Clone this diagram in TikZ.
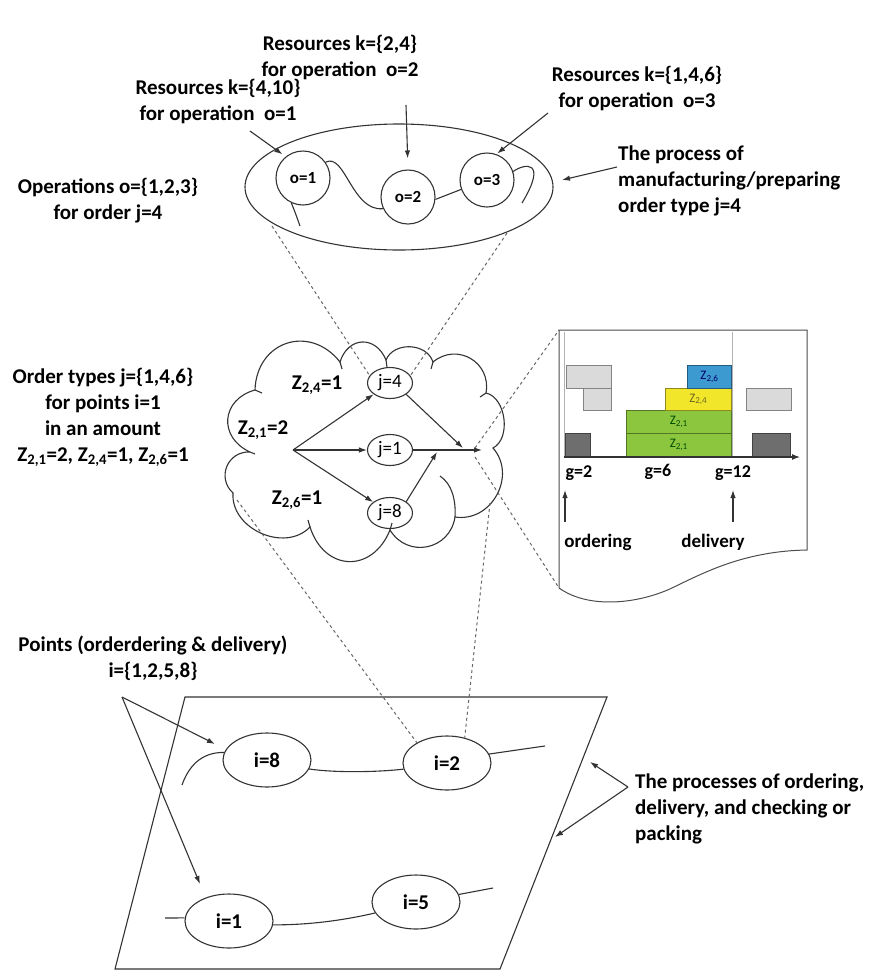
\documentclass[tikz,border=0pt]{standalone}
\usepackage{fontspec}
\setmainfont{Carlito}
\usetikzlibrary{arrows.meta,shapes.geometric}
\newcommand\Zs[1]{Z\textsubscript{#1}}
\definecolor{cgreen}{HTML}{8CC63E}
\definecolor{cyellow}{HTML}{F2E62B}
\definecolor{cblue}{HTML}{3D9AD1}
\definecolor{clight}{HTML}{DADADA}
\definecolor{cdark}{HTML}{6E6E6E}
\begin{document}
\begin{tikzpicture}[x=1pt,y=-1pt,
  ln/.style={line width=1.1pt,draw=black!80},
  arr/.style={ln,-{Latex[length=8pt,width=5.5pt]}},
  dsh/.style={line width=1pt,draw=black!60,dash pattern=on 3pt off 3pt},
  lbl/.style={font=\fontsize{21}{26}\selectfont\bfseries,align=center,inner sep=0pt},
  circ/.style={circle,ln,minimum size=54pt,inner sep=0pt,font=\fontsize{17}{17}\selectfont\bfseries},
  jell/.style={ellipse,ln,minimum width=45pt,minimum height=31pt,inner sep=0pt,font=\fontsize{19}{19}\selectfont},
  iell/.style={ellipse,ln,minimum width=88pt,minimum height=54pt,inner sep=0pt,font=\fontsize{21}{21}\selectfont\bfseries},
  bx/.style={draw=#1!60!black,line width=0.8pt,minimum height=0pt,inner sep=0pt,font=\fontsize{13}{13}\selectfont},
  glbl/.style={font=\fontsize{18}{18}\selectfont\bfseries,inner sep=0pt},
  clbl/.style={font=\fontsize{19}{19}\selectfont\bfseries,inner sep=0pt}
]
\useasboundingbox (0,0) rectangle (884,978);

% ---------- top part ----------
\node[lbl] (t2) at (340,57) {Resources k=\{2,4\}\\for operation~~o=2};
\node[lbl] (t1) at (218,101) {Resources k=\{4,10\}\\for operation~~o=1};
\node[lbl] (t3) at (637,88) {Resources k=\{1,4,6\}\\for operation~~o=3};
\node[lbl] (tops) at (108,201) {Operations o=\{1,2,3\}\\for order j=4};
\node[lbl,align=left,anchor=west] (tproc) at (618,181) {The process of\\manufacturing/preparing\\order type j=4};

\node[ellipse,ln,minimum width=308pt,minimum height=126pt] (ell) at (399,187) {};
\node[circ] (o1) at (303,178) {o=1};
\node[circ] (o2) at (408,197) {o=2};
\node[circ] (o3) at (487,180) {o=3};

\draw[ln] (o1.245) .. controls (295,212) .. (300,226);
\draw[ln] (o1.35) .. controls (345,152) and (352,212) .. (o2.205);
\draw[ln] (o2.-5) -- (o3.200);
\draw[ln] (o3.18) .. controls (525,163) and (548,160) .. (522,203);

\coordinate (a1) at (250,131);
\coordinate (a2) at (406,105);
\coordinate (a3) at (548,113);
\coordinate (a4) at (617,167);
\coordinate (a4t) at (562,180);
\draw[arr,shorten >=4pt] (a1) -- (o1.129);
\draw[arr,shorten >=11pt] (a2) -- (o2.north);
\draw[arr,shorten >=1pt] (a3) -- (o3.70);
\draw[arr] (a4) -- (a4t);

\coordinate (e1) at (272,226);
\coordinate (e2) at (507,233);

% ---------- cloud ----------
\draw[ln] (250,452) to[bend left=70,looseness=1.45] (255,390)
  to[bend left=70,looseness=1.4] (340,362)
  to[bend left=70,looseness=1.5] (386,360)
  to[bend left=70,looseness=1.1] (433,362)
  to[bend left=70,looseness=1.3] (486,393)
  to[bend left=70,looseness=0.95] (493,448)
  to[bend left=70,looseness=1.2] (455,517)
  to[bend left=70,looseness=1.3] (390,530)
  to[bend left=70,looseness=1.5] (310,527)
  to[bend left=70,looseness=1.1] (233,493)
  to[bend left=70,looseness=1.3] (250,452);
\draw[ln] (440,476) .. controls (452,484) and (456,500) .. (455,517);
% small inner hooks at the cusps
\draw[ln] (250,452) -- (255,454);
\draw[ln] (255,390) -- (262,393);
\draw[ln] (340,362) -- (342,369);
\draw[ln] (386,360) -- (387,367);
\draw[ln] (433,362) -- (431,369);
\draw[ln] (486,393) -- (480,397);
\draw[ln] (390,530) -- (392,523);
\draw[ln] (310,527) -- (308,520);

\node[jell] (j4) at (390,383) {j=4};
\node[jell] (j1) at (390,450) {j=1};
\node[jell] (j8) at (390,513) {j=8};
\coordinate (O) at (293,450);
\coordinate (m1) at (463,448);
\coordinate (m2) at (482,450);
\coordinate (m3) at (437,452);
\draw[arr] (O) -- (j4);
\draw[arr] (O) -- (j1);
\draw[arr] (O) -- (j8);
\draw[arr] (j4.-35) -- (m1);
\draw[arr] (j1.east) -- (m2);
\draw[arr] (j8.35) -- (m3);

\node[lbl] (z24) at (317,385) {\Zs{2,4}=1};
\node[lbl] (z21) at (263,430) {\Zs{2,1}=2};
\node[lbl] (z26) at (297,500) {\Zs{2,6}=1};

\node[lbl] (tord) at (103,417) {Order types j=\{1,4,6\}\\for points i=1\\in an amount\\\Zs{2,1}=2, \Zs{2,4}=1, \Zs{2,6}=1};

\draw[dsh] (e1) -- (j4.160);
\draw[dsh] (e2) -- (j4.20);

% ---------- chart ----------
\coordinate (c1) at (559,330);
\coordinate (c2) at (559,588);
\draw[line width=1pt,draw=black!70] (c2) -- (c1) -- (807,330) -- (807,550)
  .. controls (745,551) and (705,572) .. (672,588)
  .. controls (640,603) and (590,610) .. (c2);
\draw[gray!60,line width=0.8pt] (564,332) -- (564,457);
\draw[gray!60,line width=0.8pt] (732,332) -- (732,457);

\node[bx=clight,fill=clight,minimum width=45pt,minimum height=23.3pt] (g1) at (589.2,376.7) {};
\node[bx=clight,fill=clight,minimum width=28.4pt,minimum height=22.4pt] (g2) at (597.5,399.5) {};
\node[bx=cdark,fill=cdark,minimum width=25pt,minimum height=23.4pt] (d1) at (577.5,445) {};
\node[bx=cgreen,fill=cgreen,minimum width=105.7pt,minimum height=23.4pt,text=green!30!black] (gr1) at (678.8,445) {\Zs{2,1}};
\node[bx=cgreen,fill=cgreen,minimum width=105.7pt,minimum height=22.6pt,text=green!30!black] (gr2) at (678.8,422) {\Zs{2,1}};
\node[bx=cyellow,fill=cyellow,minimum width=66.7pt,minimum height=22.4pt,text=olive!70!black] (ye) at (698.3,399.5) {\Zs{2,4}};
\node[bx=cblue,fill=cblue,minimum width=44.4pt,minimum height=23.3pt,text=blue!40!black] (bl) at (709.5,376.7) {\Zs{2,6}};
\node[bx=clight,fill=clight,minimum width=45.7pt,minimum height=22.4pt] (g3) at (768.8,399.5) {};
\node[bx=cdark,fill=cdark,minimum width=38pt,minimum height=23.4pt] (d2) at (771.7,445) {};

\coordinate (ax0) at (564,457);
\coordinate (ax1) at (800,457);
\draw[ln,-{Latex[length=8pt,width=6pt]}] (ax0) -- (ax1);

\node[glbl] (g2l) at (579,473) {g=2};
\node[glbl] (g6l) at (658,472) {g=6};
\node[glbl] (g12l) at (733,473) {g=12};
\coordinate (u1) at (565,522);
\coordinate (u1t) at (565,490);
\coordinate (u2) at (733,522);
\coordinate (u2t) at (733,490);
\draw[arr] (u1) -- (u1t);
\draw[arr] (u2) -- (u2t);
\node[clbl] (ordl) at (598,542) {ordering};
\node[clbl] (dell) at (713,542) {delivery};

\coordinate (mc1) at (475,448);
\coordinate (mc2) at (475,457);
\draw[dsh] (mc1) -- (c1);
\draw[dsh] (mc2) -- (c2);

% ---------- bottom ----------
\draw[ln] (185,697) -- (607,697) -- (500,969) -- (115,969) -- cycle;

\node[iell] (i8) at (267,760) {i=8};
\node[iell] (i2) at (447,763) {i=2};
\node[iell] (i1) at (229,921) {i=1};
\node[iell] (i5) at (416,902) {i=5};

\coordinate (p8) at (182,785);
\coordinate (p2) at (545,746);
\coordinate (p1) at (165,918);
\coordinate (p5) at (493,888);
\draw[ln] (i8.170) .. controls (200,752) and (188,768) .. (p8);
\draw[ln] (i8.-12) .. controls (335,773) and (380,772) .. (i2.188);
\draw[ln] (i2.12) .. controls (510,751) .. (p2);
\draw[ln] (i1.176) -- (p1);
\draw[ln] (i1.-5) .. controls (310,925) and (345,920) .. (i5.195);
\draw[ln] (i5.10) -- (p5);

\coordinate (cl1) at (237,500);
\coordinate (cl2) at (490,503);
\draw[dsh] (cl1) -- (i2.146);
\draw[dsh] (cl2) -- (i2.55);

\node[lbl] (tpts) at (153,658) {Points (orderdering \& delivery)\\i=\{1,2,5,8\}};
\coordinate (ps) at (122,697);
\coordinate (pt8) at (215,744);
\coordinate (pt1) at (200,884);
\draw[arr] (ps) -- (pt8);
\draw[arr] (ps) -- (pt1);

\node[lbl,align=left,anchor=west] (tpr) at (635,809) {The processes of ordering,\\delivery, and checking or\\packing};
\coordinate (rs) at (628,787);
\coordinate (rt1) at (590,762);
\coordinate (rt2) at (555,837);
\draw[arr] (rs) -- (rt1);
\draw[arr] (rs) -- (rt2);
\end{tikzpicture}
\end{document}
